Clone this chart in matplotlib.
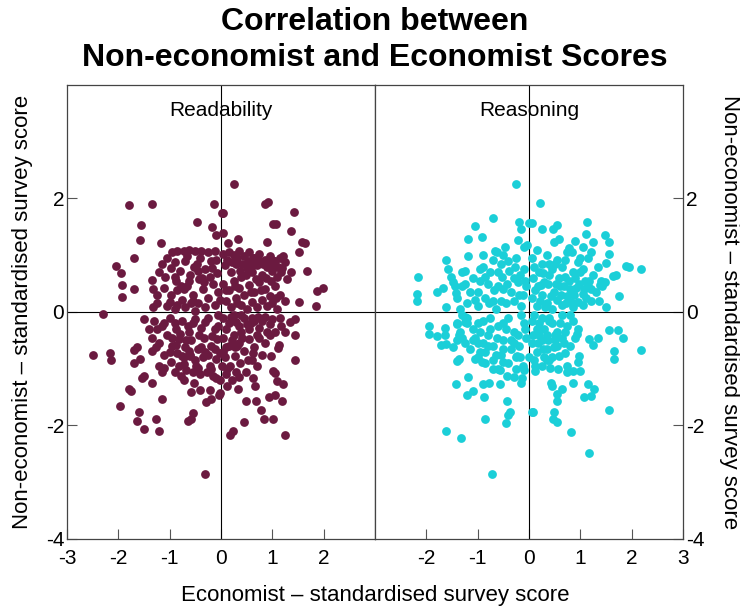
import matplotlib
matplotlib.use("Agg")
import matplotlib.pyplot as plt

plt.rcParams["font.family"] = ["Liberation Sans", "DejaVu Sans"]
plt.rcParams["axes.unicode_minus"] = False

# Readability panel: economist score (x), non-economist score (y)
read_x = [
    # scattered points
    -1.80, -1.34, -0.14, -1.55, -1.57, -1.16, -0.47, -0.18, 0.02, -0.10, -1.70, -2.04, -1.95, -1.93,
    -1.70, -1.93, -1.34, -1.32, -1.24, -1.32, -2.29,
    0.25, 0.86, 0.91, 0.05, 1.42, 1.02, 1.08, 1.37, 0.05, 0.33, 0.89, 1.58, 1.63, 0.14, 1.67, 1.88,
    1.99, 1.86, 1.53, 1.37, 1.53,
    -1.50, -2.49, -2.17, -2.15, -1.70, -1.63, -1.70, -1.57, -1.34, -1.26, -1.54, -1.50, -1.34, -1.80,
    -1.75, -1.14, -1.96, -1.59, -1.63, -1.27, -1.50, -1.21, -0.31, -0.71, -0.58, -0.52, -0.41, -0.22,
    -0.29, -0.20, -0.55, -0.65, -0.58, -0.04, -0.09, -1.14, -1.11, -0.71, -0.60,
    1.44, 1.45, 0.97, 1.12, 1.14, 1.02, 1.06, 1.09, 1.22, 0.62, 0.66, 0.33, 0.93, 1.06, 0.49, 0.68,
    1.19, 0.78, 0.45, 0.84, 1.02, 0.17, 0.24, 1.24, -0.01, -0.01, -0.01, 1.44, 1.35, 1.25, 1.18,
    # dense core
    -1.15, -1.05, -0.95, -0.85, -0.72, -0.62, -0.50, -0.38, -0.25, -0.12, -1.20, -1.08, -0.98, -0.88,
    -0.80, -0.70, -0.60, -0.52, -0.42, -0.30, -0.20, -0.08, -1.10, -0.98, -0.85, -0.75, -0.66, -0.55,
    -0.45, -0.35, -0.25, -0.15, -0.05, -1.25, -1.05, -0.90, -0.70, -0.50, -0.30, -0.12, -0.62, -0.40,
    -0.90,
    0.05, 0.15, 0.25, 0.35, 0.45, 0.55, 0.65, 0.75, 0.85, 0.95, 1.05, 1.15, 1.25, 1.20, 0.08, 0.20,
    0.30, 0.40, 0.50, 0.60, 0.70, 0.80, 0.90, 1.00, 1.10, 1.28, 0.05, 0.15, 0.25, 0.35, 0.45, 0.55,
    0.65, 0.75, 0.85, 0.95, 1.05, 1.15, 1.25, 0.10, 0.20, 0.30, 0.40, 0.50, 0.60, 0.70, 0.80, 0.90,
    1.00, 1.10, 0.62, 0.98,
    -1.30, -1.15, -1.00, -0.88, -0.75, -0.62, -0.50, -0.38, -0.25, -0.12, -0.05, -1.35, -1.20, -1.05,
    -0.95, -0.82, -0.70, -0.58, -0.45, -0.32, -0.20, -0.08, -1.10, -0.98, -0.85, -0.72, -0.60, -0.48,
    -0.35, -0.22, -0.10, -0.90, -0.78, -0.55, -0.40, -0.28, -0.15, -1.20, -0.65, -0.30, -0.90, -1.40,
    0.05, 0.15, 0.25, 0.35, 0.45, 0.55, 0.65, 0.75, 0.85, 0.95, 1.05, 1.15, 0.05, 0.15, 0.25, 0.35,
    0.45, 0.55, 0.65, 0.75, 0.85, 0.95, 0.08, 0.18, 0.28, 0.38, 0.48, 0.60, 0.70, 0.80, 0.10, 0.22,
    0.35, 0.12, 0.02, 0.40, 0.72, 0.28,
]
read_y = [
    1.89, 1.90, 1.90, 1.53, 1.27, 1.22, 1.58, 1.49, 1.75, 1.36, 0.95, 0.81, 0.69, 0.48,
    0.40, 0.27, 0.56, 0.40, 0.30, 0.08, -0.04,
    2.26, 1.90, 1.93, 1.74, 1.76, 1.55, 1.55, 1.43, 1.40, 1.28, 1.24, 1.23, 1.21, 1.21, 0.72, 0.37,
    0.43, 0.11, 0.17, 0.71, 1.05,
    -0.13, -0.75, -0.73, -0.85, -0.67, -0.61, -0.89, -0.83, -0.68, -0.61, -1.17, -1.13, -1.25, -1.36,
    -1.39, -1.54, -1.66, -1.76, -1.92, -1.89, -2.07, -2.09, -2.85, -1.20, -1.41, -1.25, -1.38, -1.38,
    -1.58, -1.54, -1.78, -1.92, -1.89, -1.46, -1.17, -1.05, -0.99, -0.80, -0.75,
    -0.41, -0.85, -0.77, -0.64, -0.58, -1.04, -1.08, -1.21, -1.27, -1.16, -1.30, -1.35, -1.49, -1.46,
    -1.57, -1.57, -1.57, -1.73, -1.93, -1.89, -1.89, -2.16, -2.10, -2.16, -1.43, -0.73, -1.19, -0.13,
    -0.17, -0.36, -0.25,
    0.85, 0.95, 1.05, 1.08, 1.07, 1.10, 1.08, 1.07, 1.05, 1.08, 0.70, 0.62, 0.78, 0.55,
    0.72, 0.90, 0.65, 0.80, 0.58, 0.75, 0.90, 0.68, 0.42, 0.30, 0.38, 0.22, 0.45, 0.30,
    0.15, 0.40, 0.25, 0.50, 0.35, 0.15, 0.10, 0.05, 0.08, 0.02, 0.08, 0.12, 0.55, 0.95,
    0.88,
    1.02, 1.06, 1.00, 1.08, 0.98, 1.05, 0.95, 1.02, 0.92, 0.98, 0.90, 0.95, 0.88, 0.78, 0.82, 0.70,
    0.85, 0.62, 0.78, 0.70, 0.82, 0.65, 0.80, 0.72, 0.62, 0.58, 0.50, 0.38, 0.55, 0.42, 0.30, 0.48,
    0.35, 0.52, 0.40, 0.28, 0.45, 0.30, 0.20, 0.20, 0.08, 0.25, 0.12, 0.05, 0.18, 0.08, 0.22, 0.10,
    0.15, 0.05, 0.95, 0.55,
    -0.15, -0.25, -0.10, -0.30, -0.15, -0.35, -0.12, -0.28, -0.10, -0.30, -0.05, -0.45, -0.55, -0.40,
    -0.60, -0.48, -0.62, -0.50, -0.65, -0.45, -0.60, -0.48, -0.75, -0.88, -0.72, -0.92, -0.78, -0.95,
    -0.80, -0.95, -0.82, -1.05, -1.12, -1.05, -1.10, -1.05, -1.12, -0.95, -0.25, -0.70, -0.20, -0.30,
    -0.10, -0.20, -0.05, -0.25, -0.10, -0.30, -0.15, -0.28, -0.08, -0.22, -0.35, -0.10, -0.45, -0.60,
    -0.40, -0.55, -0.68, -0.48, -0.62, -0.45, -0.55, -0.40, -0.80, -0.95, -0.78, -0.90, -1.05, -0.85,
    -0.95, -0.75, -1.10, -1.20, -1.15, -1.30, -0.95, -0.35, -0.08, -0.62,
]
# more overlapping points inside the Readability core
read_core_x = [
    -0.90, -0.78, -0.66, -0.55, -0.44, -0.33, -0.22, -0.10, -1.00, -0.85, -0.72, -0.58, -0.46, -0.36,
    -0.18, -0.02,
    0.12, 0.22, 0.32, 0.42, 0.52, 0.62, 0.72, 0.82, 0.92, 1.02, 1.12, 1.22, 0.10, 0.28, 0.38, 0.58,
    0.68, 0.88, 1.08, 1.18, 0.48, 0.78, 0.32, 1.00,
    -1.25, -1.10, -0.95, -0.80, -0.68, -0.55, -0.42, -0.30, -0.18, -0.05, -1.00, -0.88, -0.75, -0.62,
    -0.50, -0.38, -0.25, -0.12, -0.82, -0.68, -0.45, -0.20,
    0.10, 0.20, 0.30, 0.40, 0.50, 0.60, 0.70, 0.80, 0.90, 1.00, 0.10, 0.22, 0.32, 0.42, 0.52, 0.62,
    0.12, 0.30, 0.05, 0.58,
]
read_core_y = [
    0.62, 0.45, 0.98, 0.20, 0.72, 0.52, 0.62, 0.92, 0.18, 0.12, 0.40, 0.15, 0.85, 0.60,
    0.78, 0.22,
    0.92, 0.88, 0.95, 0.85, 0.90, 0.82, 0.92, 0.85, 0.90, 0.84, 0.80, 0.98, 0.38, 0.45, 0.72, 0.35,
    0.58, 0.60, 0.25, 0.70, 0.65, 0.38, 0.15, 0.92,
    -0.30, -0.20, -0.45, -0.38, -0.50, -0.20, -0.40, -0.18, -0.42, -0.25, -0.70, -0.58, -0.78, -0.68,
    -0.85, -0.62, -0.75, -0.65, -0.95, -1.02, -0.98, -1.00,
    -0.30, -0.08, -0.18, -0.05, -0.22, -0.10, -0.40, -0.15, -0.35, -0.12, -0.62, -0.50, -0.60, -0.45,
    -0.85, -0.72, -1.00, -1.05, -0.70, -0.20,
]

# Reasoning panel
reas_x = [
    # scattered points
    -0.25, -0.70, -1.06, -1.19, -0.91, -0.20, 0.00, -0.16, -0.21, -0.03, -0.10, -0.46, -0.66, -0.62,
    -0.89, -1.19, -1.62, -1.57, -1.51, -1.48, -1.31, -2.17, -2.19, -2.19, -1.79, -1.67, -1.62, -1.43,
    0.22, 0.05, 0.26, 0.46, 0.54, 1.14, 1.12, 1.48, 1.56, 1.25, 0.90, 0.58, 0.49, 1.56, 0.79, 0.84,
    1.06, 1.20, 1.90, 1.95, 2.18, 1.69, 1.64, 1.49, 1.51, 1.38, 1.43, 1.75, 1.15, 0.85, 1.06, 1.50,
    1.36, 0.23,
    -1.94, -1.94, -1.80, -1.63, -1.63, -1.71, -1.62, -1.41, -1.49, -1.40, -1.36, -1.41, -1.36, -1.25,
    -1.25, -1.42, -1.19, -1.21, -1.10, -0.88, -0.90, -0.77, -0.57, -0.85, -1.62, -1.33, -0.72, -0.43,
    -0.36, -0.41, -0.45, -0.43, -0.30, -0.16, -0.13, -0.10, 0.05, -0.56, -0.70, -0.92, -1.05, -0.23,
    0.00,
    1.56, 1.74, 1.84, 2.18, 1.66, 1.66, 1.18, 1.34, 1.25, 0.94, 0.98, 0.95, 0.85, 1.00, 0.75, 0.75,
    0.56, 0.39, 0.41, 0.12, 0.43, 0.45, 0.64, 0.85, 1.15, 1.26, 1.07, 1.21, 0.55, 0.55, 0.07, 0.49,
    0.46, 0.55, 1.56, 0.82, 1.18,
    # dense core
    -1.40, -1.30, -1.20, -1.10, -1.00, -0.90, -0.80, -0.70, -0.60, -0.50, -0.40, -0.30, -0.20, -0.10,
    -0.05, -1.35, -1.15, -1.00, -0.85, -0.75, -0.65, -0.55, -0.45, -0.35, -0.25, -0.15, -0.08, -0.95,
    -0.60, -0.30, -1.25, -0.50,
    0.05, 0.15, 0.25, 0.35, 0.45, 0.55, 0.65, 0.75, 0.85, 0.95, 1.05, 1.15, 1.25, 1.35, 0.08, 0.18,
    0.28, 0.38, 0.48, 0.58, 0.68, 0.78, 0.88, 0.98, 1.08, 1.18, 1.30, 0.05, 0.15, 0.25, 0.35, 0.45,
    0.55, 0.65, 0.75, 0.85, 0.95, 1.05, 1.20, 0.40, 0.70,
    -1.40, -1.30, -1.20, -1.10, -1.00, -0.90, -0.80, -0.70, -0.60, -0.50, -0.40, -0.30, -0.20, -0.10,
    -0.05, -1.15, -1.00, -0.85, -0.70, -0.55, -0.40, -0.25, -0.12, -0.60, -0.35, -0.75, -0.95, -0.45,
    -0.15, -1.25,
    0.05, 0.15, 0.25, 0.35, 0.45, 0.55, 0.65, 0.75, 0.85, 0.95, 0.05, 0.15, 0.25, 0.35, 0.45, 0.55,
    0.65, 0.80, 0.10, 0.25, 0.30, 0.20, 0.50, 0.70, 0.40,
]
reas_y = [
    2.26, 1.65, 1.52, 1.29, 1.33, 1.59, 1.56, 1.46, 1.26, 1.18, 1.14, 1.15, 1.08, 1.05,
    1.01, 0.99, 0.92, 0.75, 0.61, 0.53, 0.71, 0.61, 0.31, 0.19, 0.35, 0.43, 0.08, 0.34,
    1.92, 1.56, 1.46, 1.46, 1.53, 1.58, 1.38, 1.36, 1.24, 1.24, 1.25, 1.28, 1.24, 1.03, 1.13, 1.06,
    1.15, 1.06, 0.81, 0.79, 0.75, 0.66, 0.63, 0.53, 0.86, 0.48, 0.46, 0.29, 0.46, 0.31, 0.32, 0.08,
    0.19, 0.48,
    -0.25, -0.38, -0.42, -0.29, -0.41, -0.58, -0.57, -0.21, -0.62, -0.49, -0.41, -0.86, -0.83, -0.17,
    -0.08, -1.27, -1.14, -1.46, -1.39, -1.50, -1.27, -1.25, -1.27, -1.89, -2.10, -2.22, -2.85, -1.57,
    -1.76, -1.82, -1.96, -1.13, -1.14, -1.26, -1.17, -1.02, -1.76, -1.02, -1.01, -0.88, -0.83, -0.78,
    -0.79,
    -0.31, -0.31, -0.45, -0.67, -0.69, -0.82, -0.48, -0.45, -0.58, -0.38, -0.78, -0.88, -1.04, -1.04,
    -0.96, -1.05, -1.01, -0.85, -0.98, -1.04, -1.26, -1.31, -1.36, -1.26, -1.27, -1.36, -1.50, -1.48,
    -1.45, -1.57, -1.76, -1.76, -1.89, -1.93, -1.72, -2.12, -2.48,
    0.25, 0.45, 0.15, 0.60, 0.35, 0.80, 0.50, 0.20, 0.70, 0.40, 0.90, 0.60, 0.30, 0.75,
    0.45, 0.05, 0.35, 0.10, 0.25, 0.70, 0.05, 0.85, 0.15, 0.35, 0.95, 0.10, 0.55, 0.55,
    0.45, 0.20, 0.72, 1.00,
    0.95, 1.10, 0.85, 1.00, 0.75, 0.92, 0.80, 1.05, 0.70, 0.88, 0.75, 0.95, 0.65, 0.80, 0.60, 0.45,
    0.68, 0.50, 0.35, 0.60, 0.45, 0.55, 0.30, 0.50, 0.40, 0.55, 0.35, 0.25, 0.10, 0.30, 0.15, 0.05,
    0.22, 0.12, 0.28, 0.08, 0.18, 0.12, 0.20, 0.85, 0.62,
    -0.20, -0.45, -0.10, -0.30, -0.55, -0.15, -0.40, -0.60, -0.25, -0.50, -0.10, -0.35, -0.60, -0.20,
    -0.45, -0.65, -0.80, -0.70, -0.85, -0.75, -0.90, -0.80, -0.95, -1.00, -0.65, -0.10, -0.35, -0.30,
    -0.05, -0.55,
    -0.15, -0.30, -0.10, -0.40, -0.20, -0.35, -0.05, -0.25, -0.15, -0.30, -0.55, -0.70, -0.50, -0.65,
    -0.80, -0.60, -0.45, -0.60, -0.85, -0.95, -0.80, -0.40, -0.50, -0.72, -0.15,
]
# more overlapping points inside the Reasoning core
reas_core_x = [
    -1.25, -1.05, -0.85, -0.68, -0.52, -0.38, -0.22, -0.12, -1.45, -0.95, -0.78, -0.42, -0.28, -0.18,
    -0.70, -0.55,
    0.10, 0.20, 0.30, 0.40, 0.50, 0.60, 0.70, 0.80, 0.90, 1.00, 1.10, 1.20, 0.12, 0.22, 0.32, 0.52,
    0.62, 0.82, 0.92, 1.12, 0.42, 0.72, 1.00, 1.40,
    -1.35, -1.20, -1.05, -0.90, -0.75, -0.62, -0.50, -0.35, -0.22, -0.08, -1.30, -1.10, -0.95, -0.80,
    -0.65, -0.50, -0.30, -0.18, -0.85, -0.50, -0.25, -1.00,
    0.10, 0.20, 0.30, 0.40, 0.50, 0.60, 0.70, 0.80, 0.90, 0.08, 0.18, 0.28, 0.38, 0.48, 0.58, 0.68,
    0.12, 0.35,
]
reas_core_y = [
    0.50, 0.22, 0.62, 0.38, 0.62, 0.72, 0.52, 0.30, 0.45, 0.75, 0.15, 0.50, 0.80, 0.65,
    0.92, 0.20,
    0.80, 0.70, 0.52, 0.65, 0.85, 0.45, 0.92, 0.40, 0.60, 0.70, 0.55, 0.40, 0.38, 0.20, 0.08, 0.50,
    0.30, 0.18, 0.42, 0.25, 0.28, 0.15, 0.95, 0.55,
    -0.35, -0.20, -0.45, -0.55, -0.30, -0.45, -0.20, -0.50, -0.40, -0.30, -0.05, -0.50, -0.70, -0.60,
    -0.75, -0.65, -0.55, -0.80, -0.90, -0.88, -1.00, -0.20,
    -0.05, -0.20, -0.30, -0.10, -0.40, -0.20, -0.35, -0.05, -0.45, -0.40, -0.55, -0.65, -0.50, -0.62,
    -0.78, -0.55, -0.95, -0.85,
]

panels = ["Readability", "Reasoning"]
colours = ["#6b1a40", "#1bcfd8"]

fig = plt.figure(figsize=(7.4, 6.08), dpi=100)
ax1 = fig.add_axes([0.0905, 0.1135, 0.416, 0.7467])
ax2 = fig.add_axes([0.5068, 0.1135, 0.416, 0.7467])

for ax, xs, ys, name, col in [(ax1, read_x + read_core_x, read_y + read_core_y, panels[0], colours[0]),
                              (ax2, reas_x + reas_core_x, reas_y + reas_core_y, panels[1], colours[1])]:
    ax.scatter(xs, ys, s=40, color=col, linewidths=0, zorder=3)
    ax.axhline(0, color="black", lw=0.8, zorder=2)
    ax.axvline(0, color="black", lw=0.8, zorder=2)
    ax.set_xlim(-3, 3)
    ax.set_ylim(-4, 4)
    ax.text(0, 3.55, name, ha="center", va="center", fontsize=15)
    ax.tick_params(direction="in", length=7, width=0.8, color="#555555", labelsize=15)
    ax.tick_params(axis="x", pad=7)
    ax.tick_params(axis="y", pad=2)
    for sp in ax.spines.values():
        sp.set_linewidth(0.9)
        sp.set_color("#444444")

ax1.set_xticks([-3, -2, -1, 0, 1, 2])
ax1.set_yticks([-4, -2, 0, 2])
ax1.set_ylabel("Non-economist – standardised survey score", fontsize=16, labelpad=9)

ax2.set_xticks([-2, -1, 0, 1, 2, 3])
ax2.set_yticks([-4, -2, 0, 2])
ax2.yaxis.tick_right()
ax2.yaxis.set_label_position("right")
ax2.tick_params(axis="y", direction="in", length=7, pad=2)
ax2.set_ylabel("Non-economist – standardised survey score", fontsize=16, rotation=-90,
               labelpad=26)

fig.text(0.507, 0.003, "Economist – standardised survey score", ha="center", va="bottom",
         fontsize=16)
fig.text(0.507, 0.988, "Correlation between\nNon-economist and Economist Scores",
         ha="center", va="top", fontsize=23, fontweight="bold", linespacing=1.25)

fig.savefig("out.png", dpi=100)
